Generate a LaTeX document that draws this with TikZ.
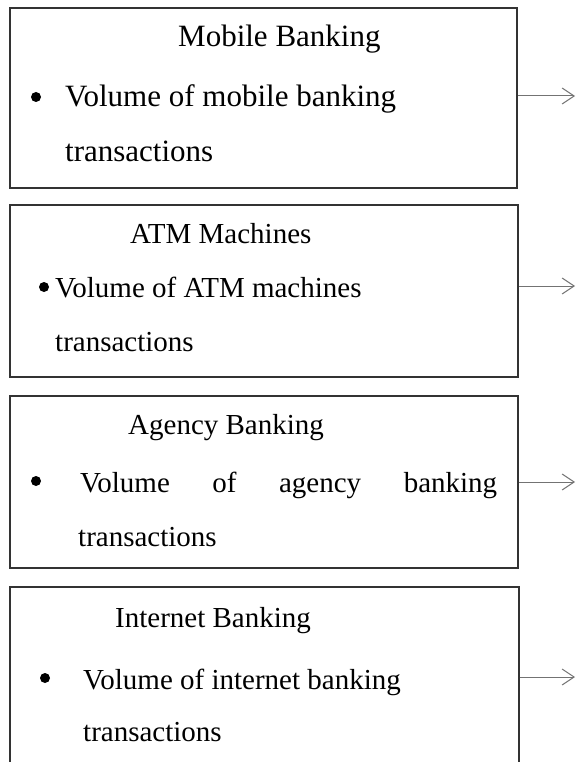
\documentclass[tikz,border=0pt]{standalone}
\usepackage{fontspec}
\setmainfont{Liberation Serif}
\usetikzlibrary{arrows.meta}
\begin{document}
\begin{tikzpicture}[x=1pt,y=-1pt,
  box/.style={draw=black!80, line width=1.3pt, inner sep=0},
  txt/.style={anchor=base west, inner sep=0, font=\fontsize{29}{29}\selectfont},
  bigtxt/.style={txt, font=\fontsize{31}{31}\selectfont},
  dot/.style={circle, fill=black, inner sep=0, minimum size=10pt},
  arr/.style={draw=black!55, line width=1pt, -{Straight Barb[length=12pt,width=16pt,line width=1pt]}}]
\useasboundingbox (0,0) rectangle (575,762);
\clip (0,0) rectangle (575,762);
% boxes
\node[box, minimum width=507pt, minimum height=180pt] (box1) at (263.5,98) {};
\node[box, minimum width=508pt, minimum height=172pt] (box2) at (264,291) {};
\node[box, minimum width=508pt, minimum height=172pt] (box3) at (264,482) {};
\node[box, minimum width=509pt, minimum height=193pt] (box4) at (264.5,683.5) {};
% box 1
\node[bigtxt] (t1a) at (178,47) {Mobile Banking};
\node[dot] (d1) at (36,97) {};
\node[bigtxt] (t1b) at (65,107) {Volume of mobile banking};
\node[bigtxt] (t1c) at (65,161) {transactions};
% box 2
\node[txt] (t2a) at (130,243) {ATM Machines};
\node[dot] (d2) at (44,287) {};
\node[txt] (t2b) at (55,297) {Volume of ATM machines};
\node[txt] (t2c) at (55,351) {transactions};
% box 3
\node[txt] (t3a) at (128,434) {Agency Banking};
\node[dot] (d3) at (36,481) {};
\node[txt] (t3b) at (80,492) {\makebox[417pt][s]{Volume of agency banking}};
\node[txt] (t3c) at (78,546) {transactions};
% box 4
\node[txt] (t4a) at (115,627) {Internet Banking};
\node[dot] (d4) at (45,678) {};
\node[txt] (t4b) at (83,689) {Volume of internet banking};
\node[txt] (t4c) at (83,741) {transactions};
% arrows
\coordinate (e1) at (575,96);
\coordinate (e2) at (575,286);
\coordinate (e3) at (575,482);
\coordinate (e4) at (575,677);
\draw[arr] (box1.east |- e1) -- (e1);
\draw[arr] (box2.east |- e2) -- (e2);
\draw[arr] (box3.east |- e3) -- (e3);
\draw[arr] (box4.east |- e4) -- (e4);
\end{tikzpicture}
\end{document}
